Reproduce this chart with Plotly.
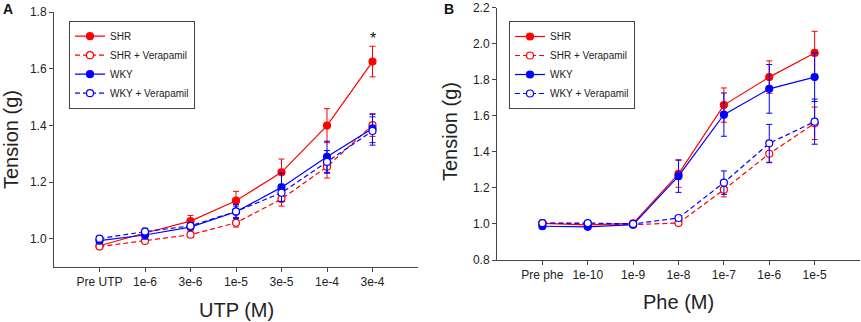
import plotly.graph_objects as go

# ---------------- data ----------------
utp_labels = ["Pre UTP", "1e-6", "3e-6", "1e-5", "3e-5", "1e-4", "3e-4"]
phe_labels = ["Pre phe", "1e-10", "1e-9", "1e-8", "1e-7", "1e-6", "1e-5"]

# Panel A (UTP)
a_shr = [0.975, 1.020, 1.062, 1.134, 1.234, 1.399, 1.625]
a_shr_err = [0.008, 0.010, 0.020, 0.033, 0.047, 0.060, 0.054]
a_shr_v = [0.972, 0.992, 1.014, 1.056, 1.140, 1.254, 1.401]
a_shr_v_err = [0.008, 0.008, 0.010, 0.015, 0.025, 0.040, 0.040]
a_wky = [0.993, 1.013, 1.041, 1.095, 1.181, 1.289, 1.389]
a_wky_err = [0.008, 0.015, 0.010, 0.020, 0.050, 0.055, 0.050]
a_wky_v = [1.000, 1.025, 1.045, 1.096, 1.162, 1.271, 1.380]
a_wky_v_err = [0.008, 0.012, 0.010, 0.025, 0.030, 0.040, 0.050]

# Panel B (Phe)
b_shr = [1.003, 0.995, 1.003, 1.278, 1.659, 1.814, 1.948]
b_shr_err = [0.005, 0.005, 0.005, 0.075, 0.095, 0.090, 0.120]
b_shr_v = [1.005, 1.000, 0.996, 1.005, 1.190, 1.389, 1.558]
b_shr_v_err = [0.005, 0.005, 0.005, 0.010, 0.040, 0.050, 0.090]
b_wky = [0.987, 0.984, 0.996, 1.265, 1.606, 1.749, 1.814]
b_wky_err = [0.005, 0.005, 0.005, 0.090, 0.120, 0.135, 0.135]
b_wky_v = [1.005, 1.005, 1.000, 1.033, 1.229, 1.447, 1.567]
b_wky_v_err = [0.005, 0.005, 0.005, 0.010, 0.065, 0.105, 0.125]

series_names = ["SHR", "SHR + Verapamil", "WKY", "WKY + Verapamil"]

RED = "#ff0000"
BLUE = "#0000ff"
styles = [
    dict(color=RED, dash="solid", filled=True),
    dict(color=RED, dash="5px,3px", filled=False),
    dict(color=BLUE, dash="solid", filled=True),
    dict(color=BLUE, dash="5px,3px", filled=False),
]

fig = go.Figure()

def add_panel(vals, errs, labels, xa, ya, legend):
    idx = list(range(len(labels)))
    for name, v, e, st in zip(series_names, vals, errs, styles):
        fig.add_trace(go.Scatter(
            x=idx, y=v, name=name, mode="lines+markers",
            xaxis=xa, yaxis=ya, legend=legend,
            line=dict(color=st["color"], width=1.2, dash=st["dash"]),
            marker=dict(symbol="circle", size=7,
                        color=st["color"] if st["filled"] else "white",
                        line=dict(color=st["color"], width=1.2)),
            error_y=dict(type="data", array=e, visible=True,
                         color=st["color"], thickness=1, width=3),
        ))

add_panel([a_shr, a_shr_v, a_wky, a_wky_v],
          [a_shr_err, a_shr_v_err, a_wky_err, a_wky_v_err],
          utp_labels, "x", "y", "legend")
add_panel([b_shr, b_shr_v, b_wky, b_wky_v],
          [b_shr_err, b_shr_v_err, b_wky_err, b_wky_v_err],
          phe_labels, "x2", "y2", "legend2")

FONT = "Liberation Sans, Arial, sans-serif"
axis_common = dict(showline=True, linecolor="#444", linewidth=1, ticks="outside",
                   ticklen=4, tickcolor="#444", showgrid=False, zeroline=False,
                   automargin=False, ticklabeloverflow="allow",
                   tickfont=dict(family=FONT, size=12, color="#222"))

legend_common = dict(bordercolor="#444", borderwidth=1, bgcolor="white",
                     font=dict(family=FONT, size=10, color="#222"),
                     xanchor="left", yanchor="top", tracegroupgap=0,
                     itemwidth=30)

fig.update_layout(
    width=861, height=322,
    margin=dict(l=0, r=0, t=0, b=0, pad=0, autoexpand=False),
    paper_bgcolor="white", plot_bgcolor="white",
    font=dict(family=FONT),
    xaxis=dict(domain=[54/861, 418/861], range=[-1, 7], tickmode="array",
               tickvals=list(range(7)), ticktext=utp_labels, anchor="y", **axis_common),
    yaxis=dict(domain=[1-267/322, 1-12/322], range=[0.9, 1.8], tickmode="array",
               tickvals=[1.0, 1.2, 1.4, 1.6, 1.8], tickformat=".1f", anchor="x", **axis_common),
    xaxis2=dict(domain=[497/861, 860/861], range=[-1, 7], tickmode="array",
                tickvals=list(range(7)), ticktext=phe_labels, anchor="y2", **axis_common),
    yaxis2=dict(domain=[1-260/322, 1-7.5/322], range=[0.8, 2.2], tickmode="array",
                tickvals=[0.8, 1.0, 1.2, 1.4, 1.6, 1.8, 2.0, 2.2], tickformat=".1f",
                anchor="x2", **axis_common),
    legend=dict(x=69/861, y=1-20.7/322, **legend_common),
    legend2=dict(x=509/861, y=1-21/322, **legend_common),
    showlegend=True,
)

ann_font = dict(family=FONT, size=20, color="#222")
annotations = [
    dict(text="Tension (g)", x=11/861, y=1-140/322, textangle=-90, font=ann_font),
    dict(text="Tension (g)", x=450/861, y=1-132/322, textangle=-90, font=ann_font),
    dict(text="UTP (M)", x=236/861, y=1-310/322, font=ann_font),
    dict(text="Phe (M)", x=678/861, y=1-302/322, font=ann_font),
    dict(text="<b>A</b>", x=8/861, y=1-9/322, font=dict(family=FONT, size=14, color="#111")),
    dict(text="<b>B</b>", x=449/861, y=1-9/322, font=dict(family=FONT, size=14, color="#111")),
]
for a in annotations:
    a.update(xref="paper", yref="paper", showarrow=False, xanchor="center", yanchor="middle")
    fig.add_annotation(**a)

fig.add_annotation(text="*", x=6, y=1.705, xref="x", yref="y", showarrow=False,
                   font=dict(family=FONT, size=16, color="#111"),
                   xanchor="center", yanchor="middle")

fig.write_html("out.html", config={"displayModeBar": False},
               post_script="document.body.style.margin='0';document.body.style.overflow='hidden';")
